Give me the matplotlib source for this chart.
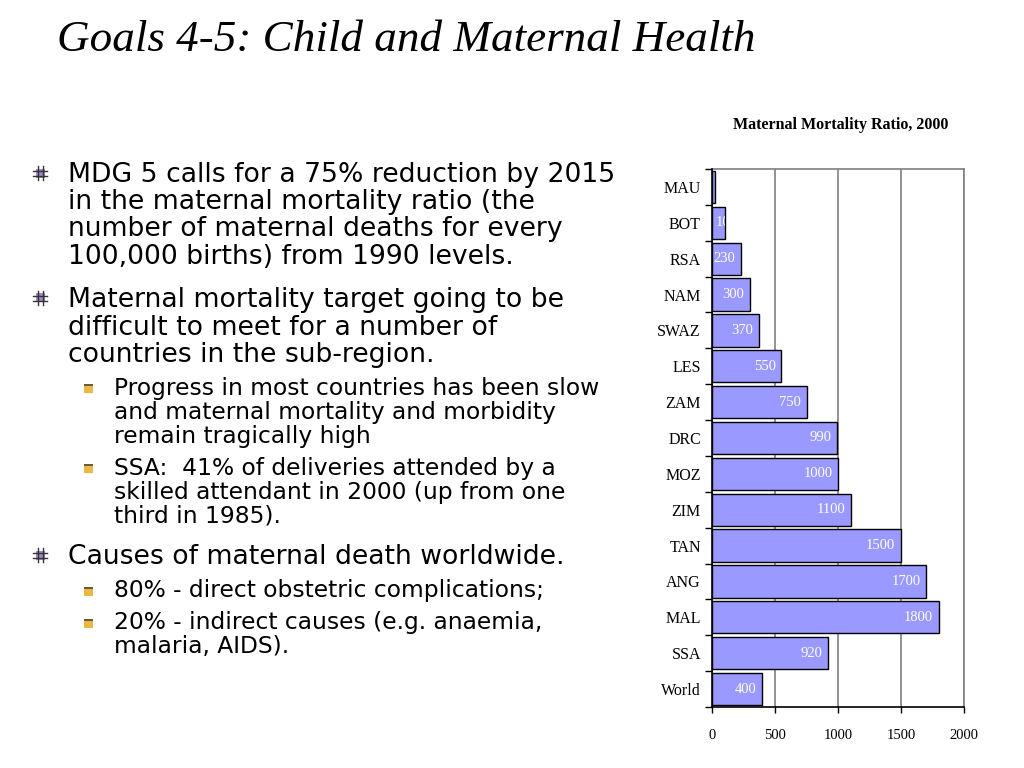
"""Slide: Goals 4-5, child and maternal health, with the maternal mortality bar chart."""

import matplotlib

matplotlib.use("Agg")

import matplotlib.pyplot as plt
from matplotlib.lines import Line2D
from matplotlib.patches import Rectangle

FIG_W, FIG_H = 1024, 768

COUNTRIES = ["MAU", "BOT", "RSA", "NAM", "SWAZ", "LES", "ZAM", "DRC",
             "MOZ", "ZIM", "TAN", "ANG", "MAL", "SSA", "World"]
MMR_2000 = [24, 100, 230, 300, 370, 550, 750, 990,
            1000, 1100, 1500, 1700, 1800, 920, 400]
X_TICKS = [0, 500, 1000, 1500, 2000]

TITLE = "Goals 4-5: Child and Maternal Health"
CHART_TITLE = "Maternal Mortality Ratio, 2000"

# (level, lines, y in pixels of each line)
BULLETS = [
    (0, ["MDG 5 calls for a 75% reduction by 2015",
         "in the maternal mortality ratio (the",
         "number of maternal deaths for every",
         "100,000 births) from 1990 levels."], [175, 202, 229, 257]),
    (0, ["Maternal mortality target going to be",
         "difficult to meet for a number of",
         "countries in the sub-region."], [300, 328, 355]),
    (1, ["Progress in most countries has been slow",
         "and maternal mortality and morbidity",
         "remain tragically high"], [388, 412, 436]),
    (1, ["SSA:  41% of deliveries attended by a",
         "skilled attendant in 2000 (up from one",
         "third in 1985)."], [468, 492, 516]),
    (0, ["Causes of maternal death worldwide."], [557]),
    (1, ["80% - direct obstetric complications;"], [591]),
    (1, ["20% - indirect causes (e.g. anaemia,",
         "malaria, AIDS)."], [623, 647]),
]

BAR_COLOR = "#9999FF"
GRID_COLOR = "#808080"
SERIF = "Liberation Serif"


def fx(px):
    return px / FIG_W


def fy(py):
    return 1.0 - py / FIG_H


def draw_main_bullet(fig, cx, cy):
    size = 9
    fig.patches.append(Rectangle((fx(cx - size / 2), fy(cy + size / 2)),
                                 size / FIG_W, size / FIG_H,
                                 transform=fig.transFigure,
                                 facecolor="#A08CC8", edgecolor="none"))
    for off in (-2.5, 2.5):
        fig.lines.append(Line2D([fx(cx + off), fx(cx + off)],
                                [fy(cy - 7), fy(cy + 7)],
                                transform=fig.transFigure, color="#333333", lw=1.0))
        fig.lines.append(Line2D([fx(cx - 7), fx(cx + 7)],
                                [fy(cy + off), fy(cy + off)],
                                transform=fig.transFigure, color="#333333", lw=1.0))


def draw_sub_bullet(fig, cx, cy):
    size = 9
    fig.patches.append(Rectangle((fx(cx - size / 2), fy(cy + size / 2)),
                                 size / FIG_W, size / FIG_H,
                                 transform=fig.transFigure,
                                 facecolor="#E8B848", edgecolor="none"))
    fig.patches.append(Rectangle((fx(cx - size / 2), fy(cy - size / 2 + 2)),
                                 size / FIG_W, 2 / FIG_H,
                                 transform=fig.transFigure,
                                 facecolor="#6A5A3A", edgecolor="none"))


fig = plt.figure(figsize=(FIG_W / 100, FIG_H / 100), dpi=100)
fig.patch.set_facecolor("white")

fig.text(fx(57), fy(40), TITLE, fontsize=32.5, style="italic",
         family=SERIF, va="center", ha="left")

for level, lines, ys in BULLETS:
    if level == 0:
        text_x, size = 68, 19.2
        draw_main_bullet(fig, 40, ys[0] - 2)
    else:
        text_x, size = 114, 16.8
        draw_sub_bullet(fig, 88, ys[0])
    for line, y in zip(lines, ys):
        fig.text(fx(text_x), fy(y), line, fontsize=size, family="DejaVu Sans",
                 va="center", ha="left", color="black")

# chart
ax = fig.add_axes([fx(712), fy(707), (964 - 712) / FIG_W, (707 - 169) / FIG_H])
positions = list(range(len(COUNTRIES)))
bars = ax.barh(positions, MMR_2000, height=0.9, color=BAR_COLOR,
               edgecolor="black", linewidth=1.0, zorder=3)
ax.set_xlim(0, 2000)
ax.set_ylim(len(COUNTRIES) - 0.5, -0.5)
ax.set_xticks(X_TICKS)
ax.set_xticklabels([str(t) for t in X_TICKS], family=SERIF, fontsize=10.5)
ax.set_yticks(positions)
ax.set_yticklabels(COUNTRIES, family=SERIF, fontsize=11.5)
ax.set_yticks([p + 0.5 for p in range(-1, len(COUNTRIES))], minor=True)
ax.tick_params(axis="y", which="major", length=0, pad=8)
ax.tick_params(axis="y", which="minor", length=5, width=1, direction="out")
ax.tick_params(axis="x", which="major", length=4, width=1, direction="out", pad=12)
ax.xaxis.grid(True, color=GRID_COLOR, linewidth=1.2, zorder=0)
ax.set_axisbelow(True)
for side in ("top", "right"):
    ax.spines[side].set_color(GRID_COLOR)
    ax.spines[side].set_linewidth(1.2)
for side in ("left", "bottom"):
    ax.spines[side].set_color("black")
    ax.spines[side].set_linewidth(1.2)
    ax.spines[side].set_zorder(4)

for bar, value in zip(bars, MMR_2000):
    y_mid = bar.get_y() + bar.get_height() / 2
    if value >= 200:
        label = ax.annotate(str(value), (value, y_mid),
                            xytext=(-4, 0), textcoords="offset points",
                            ha="right", va="center", color="white",
                            fontsize=10.5, family=SERIF, zorder=5)
    else:
        label = ax.annotate(str(value), (0, y_mid),
                            xytext=(3, 0), textcoords="offset points",
                            ha="left", va="center", color="white",
                            fontsize=10.5, family=SERIF, zorder=5)
    label.set_clip_path(bar)

fig.text(fx(841), fy(125), CHART_TITLE, fontsize=11.5, fontweight="bold",
         family=SERIF, ha="center", va="center")

fig.savefig("out.png", dpi=100)
